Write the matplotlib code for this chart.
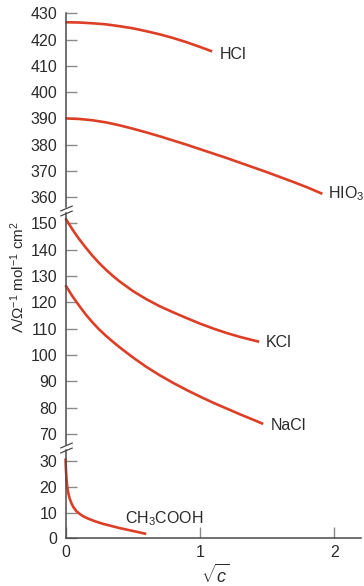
import matplotlib
matplotlib.use("Agg")
import matplotlib.pyplot as plt

plt.rcParams["font.family"] = ["Liberation Sans", "DejaVu Sans"]
plt.rcParams["mathtext.fontset"] = "custom"
plt.rcParams["mathtext.rm"] = "Liberation Sans"
plt.rcParams["mathtext.it"] = "Liberation Sans:italic"

# ── values (x = sqrt(c), y = molar conductivity) ──
hcl_x = [0, 0.1, 0.2, 0.3, 0.4, 0.5, 0.6, 0.7, 0.8, 0.9, 1.0, 1.09]
hcl_y = [426.6, 426.5, 426.2, 425.8, 425.1, 424.3, 423.2, 422.0, 420.6, 419.0, 417.2, 415.5]

hio3_x = [0, 0.1, 0.2, 0.3, 0.4, 0.5, 0.6, 0.7, 0.8, 0.9, 1.0,
          1.1, 1.2, 1.3, 1.4, 1.5, 1.6, 1.7, 1.8, 1.91]
hio3_y = [390.0, 389.8, 389.3, 388.5, 387.4, 386.1, 384.7, 383.2, 381.6, 380.0, 378.3,
          376.6, 374.9, 373.1, 371.3, 369.5, 367.6, 365.7, 363.7, 361.3]

kcl_x = [0, 0.025, 0.05, 0.075, 0.1, 0.15, 0.2, 0.25, 0.3, 0.35, 0.4,
         0.5, 0.6, 0.7, 0.8, 0.9, 1.0, 1.1, 1.2, 1.3, 1.44]
kcl_y = [151.9, 149.8, 147.8, 145.9, 144.1, 140.8, 137.7, 134.9, 132.4, 130.1, 128.0,
         124.3, 121.2, 118.5, 116.2, 114.0, 111.9, 110.0, 108.3, 106.8, 105.0]

nacl_x = [0, 0.05, 0.1, 0.15, 0.2, 0.25, 0.3, 0.35, 0.4,
          0.5, 0.6, 0.7, 0.8, 0.9, 1.0, 1.1, 1.2, 1.3, 1.4, 1.47]
nacl_y = [126.5, 122.4, 118.8, 115.4, 112.4, 109.7, 107.3, 105.1, 103.0,
          99.1, 95.5, 92.3, 89.4, 86.7, 84.2, 81.8, 79.6, 77.4, 75.3, 73.8]

acoh_x = [0, 0.003, 0.007, 0.012, 0.02, 0.03, 0.045, 0.06, 0.08, 0.1,
          0.13, 0.17, 0.22, 0.28, 0.34, 0.4, 0.47, 0.54, 0.6]
acoh_y = [31.0, 27.0, 23.5, 20.5, 17.8, 15.6, 13.5, 12.0, 10.6, 9.7,
          8.6, 7.6, 6.6, 5.6, 4.8, 4.0, 3.2, 2.4, 1.7]

# label anchors (x, y) in data units
labels = {
    "HCl": (1.15, 414.3),
    "HIO$_3$": (1.95, 361.5),
    "KCl": (1.49, 104.7),
    "NaCl": (1.525, 73.2),
    "CH$_3$COOH": (0.44, 7.8),
}

RED = "#dd3f26"
SPINE = "#4a4a4a"
TICK = "#8a8a8a"
TXT = "#2b2b2b"
FS = 11.5

W, H = 364, 586
fig = plt.figure(figsize=(W / 100, H / 100), dpi=100)

x0 = 65.5 / W
wd = (361.4 - 65.5) / W


def make_ax(top_px, bot_px):
    return fig.add_axes([x0, 1 - bot_px / H, wd, (bot_px - top_px) / H])


ax_top = make_ax(13.3, 207.5)
ax_mid = make_ax(213.0, 445.0)
ax_bot = make_ax(450.0, 538.3)

ax_top.set_ylim(356.1, 430)
ax_mid.set_ylim(65.8, 153.9)
ax_bot.set_ylim(0, 34.3)
ax_top.set_yticks(range(360, 431, 10))
ax_mid.set_yticks(range(70, 151, 10))
ax_bot.set_yticks(range(0, 31, 10))

for ax in (ax_top, ax_mid, ax_bot):
    ax.set_xlim(0, 2.2)
    ax.patch.set_visible(False)
    for s in ("top", "right"):
        ax.spines[s].set_visible(False)
    ax.spines["left"].set_color(SPINE)
    ax.spines["left"].set_linewidth(1.1)
    ax.tick_params(axis="y", direction="in", length=8, width=1, color=TICK,
                   labelsize=FS, labelcolor=TXT, pad=6)
    if ax is not ax_bot:
        ax.spines["bottom"].set_visible(False)
        ax.set_xticks([])

ax_bot.spines["bottom"].set_color(SPINE)
ax_bot.spines["bottom"].set_linewidth(1.1)
ax_bot.set_xticks([0, 1, 2])
ax_bot.tick_params(axis="x", direction="in", length=8, width=1, color=TICK,
                   labelsize=FS, labelcolor=TXT, pad=5)

kw = dict(color=RED, lw=1.9, clip_on=False, solid_capstyle="butt",
          solid_joinstyle="round")
ax_top.plot(hcl_x, hcl_y, **kw)
ax_top.plot(hio3_x, hio3_y, **kw)
ax_mid.plot(kcl_x, kcl_y, **kw)
ax_mid.plot(nacl_x, nacl_y, **kw)
ax_bot.plot(acoh_x, acoh_y, **kw)

for name, (lx, ly) in labels.items():
    ax = ax_top if ly > 300 else (ax_mid if ly > 50 else ax_bot)
    ax.text(lx, ly, name, fontsize=FS, color=TXT, ha="left", va="center")

# break marks on the y axis
brk = dict(marker=[(-1, -0.42), (1, 0.42)], markersize=9, linestyle="none",
           color=SPINE, mec=SPINE, mew=0.9, clip_on=False)
ax_top.plot([0], [0], transform=ax_top.transAxes, **brk)
ax_mid.plot([0, 0], [0, 1], transform=ax_mid.transAxes, **brk)
ax_bot.plot([0], [1], transform=ax_bot.transAxes, **brk)

fig.text(18 / W, 1 - 277 / H, r"Λ/Ω$^{-1}$ mol$^{-1}$ cm$^{2}$", rotation=90,
         fontsize=11, color=TXT, ha="center", va="center")
fig.text(215 / W, 1 - 575 / H, r"$\sqrt{c}$", fontsize=13, color=TXT,
         ha="center", va="center")

fig.savefig("out.png", dpi=100)
